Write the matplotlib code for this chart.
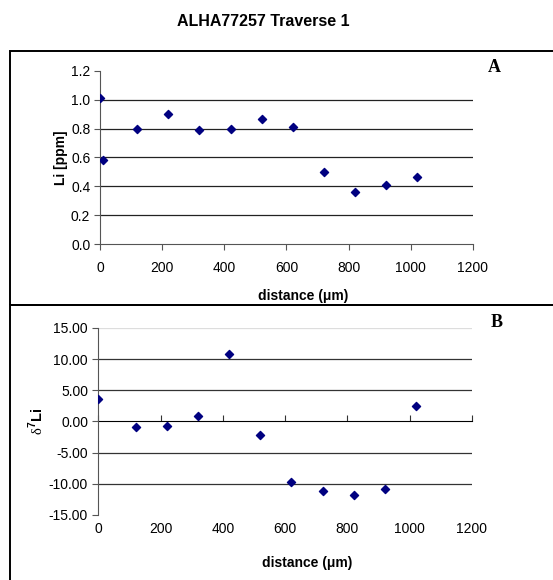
import matplotlib.pyplot as plt
from matplotlib.patches import Rectangle

plt.rcParams['font.family'] = ['Liberation Sans', 'DejaVu Sans']
plt.rcParams['mathtext.fontset'] = 'custom'
plt.rcParams['mathtext.rm'] = 'Liberation Serif'
plt.rcParams['mathtext.bf'] = 'Liberation Sans:bold'

# Traverse data
dist_li = [0, 10, 120, 220, 320, 420, 520, 620, 720, 820, 920, 1020]
li_ppm = [1.01, 0.58, 0.80, 0.90, 0.79, 0.80, 0.87, 0.815, 0.50, 0.358, 0.41, 0.468]

dist_d7 = [0, 120, 220, 320, 420, 520, 620, 720, 820, 920, 1020]
d7li = [3.6, -0.86, -0.70, 0.96, 10.82, -2.14, -9.64, -11.09, -11.84, -10.77, 2.46]

xticks = [0, 200, 400, 600, 800, 1000, 1200]
li_ticks = [0.0, 0.2, 0.4, 0.6, 0.8, 1.0, 1.2]
d7_ticks = [-15, -10, -5, 0, 5, 10, 15]

navy = '#000080'
fig = plt.figure(figsize=(5.53, 5.8), dpi=100)

# panel frames
fig.patches.append(Rectangle((10 / 553, 1 - 305 / 580), 1.0, 254 / 580,
                             transform=fig.transFigure, fill=False,
                             edgecolor='black', linewidth=1.4))
fig.patches.append(Rectangle((10 / 553, -0.05), 1.0, 1 - 305 / 580 + 0.05,
                             transform=fig.transFigure, fill=False,
                             edgecolor='black', linewidth=1.4))

fig.text(263 / 553, 1 - 22 / 580, 'ALHA77257 Traverse 1', ha='center', va='center',
         fontsize=11.5, fontweight='bold')

# --- panel A ---
ax1 = fig.add_axes([0.1808, 0.5793, 0.6745, 0.2983])
ax1.scatter(dist_li, li_ppm, marker='D', s=17, color=navy, zorder=3)
ax1.set_xlim(0, 1200)
ax1.set_ylim(0, 1.2)
ax1.set_xticks(xticks)
ax1.set_yticks(li_ticks)
ax1.set_yticklabels(['%.1f' % v for v in li_ticks])
for v in li_ticks[1:-1]:
    ax1.axhline(v, color='#222222', linewidth=0.9, zorder=1)
for s in ['top', 'right']:
    ax1.spines[s].set_visible(False)
for s in ['left', 'bottom']:
    ax1.spines[s].set_color('#555555')
ax1.tick_params(direction='out', length=4, color='#555555', labelsize=10, pad=3)
ax1.tick_params(axis='x', pad=8)
ax1.set_ylabel('Li [ppm]', fontsize=10, fontweight='bold', labelpad=2)
ax1.set_xlabel('distance (\u03bcm)', fontsize=10, fontweight='bold')
ax1.xaxis.set_label_coords(0.544, -0.262)
fig.text(494 / 553, 1 - 67 / 580, 'A', ha='center', va='center', fontsize=13,
         fontweight='bold', family='Liberation Serif')

# --- panel B ---
ax2 = fig.add_axes([0.178, 0.1121, 0.6754, 0.3224])
ax2.scatter(dist_d7, d7li, marker='D', s=17, color=navy, zorder=3)
ax2.set_xlim(0, 1200)
ax2.set_ylim(-15, 15)
ax2.set_xticks(xticks)
ax2.set_yticks(d7_ticks)
ax2.set_yticklabels(['%.2f' % v for v in d7_ticks])
for v in d7_ticks[1:]:
    if v == 0:
        continue
    ax2.axhline(v, color='#dddddd' if v == 15 else '#333333', linewidth=0.9, zorder=1)
for s in ['top', 'right', 'bottom']:
    ax2.spines[s].set_visible(False)
ax2.spines['left'].set_color('#555555')
ax2.tick_params(axis='y', direction='out', length=4, color='#555555', labelsize=10)
ax2.tick_params(axis='x', length=0, labelsize=10, pad=5)
# x axis line crossing at zero
sec = ax2.secondary_xaxis(0.5)
sec.set_xticks(xticks)
sec.set_xticklabels([])
sec.tick_params(direction='out', length=4, color='#333333')
sec.spines['bottom'].set_bounds(0, 1120)
sec.spines['bottom'].set_color('#333333')
ax2.set_xlabel('distance (\u03bcm)', fontsize=10, fontweight='bold')
ax2.xaxis.set_label_coords(0.558, -0.222)
ax2.set_ylabel(r'$\mathrm{\delta}^{\mathbf{7}}\mathbf{Li}$', fontsize=10.5, labelpad=2)
fig.text(497 / 553, 1 - 323 / 580, 'B', ha='center', va='center', fontsize=13,
         fontweight='bold', family='Liberation Serif')

fig.savefig('out.png', dpi=100)
